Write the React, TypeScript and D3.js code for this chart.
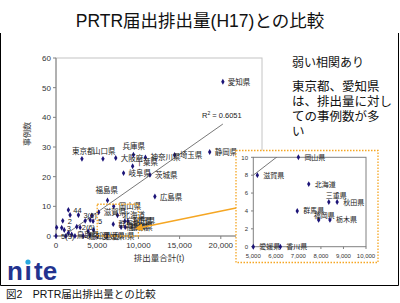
import React from "react";
import * as d3 from "d3";

// prefecture points: emissions (t) vs number of cases
const prefNames = [
  "愛知県", "静岡県", "埼玉県", "神奈川県", "兵庫県", "大阪府", "山口県", "東京都",
  "千葉県", "岐阜県", "茨城県", "広島県", "福島県",
  "岡山県", "滋賀県", "北海道", "三重県", "秋田県", "群馬県", "福岡県", "栃木県", "愛媛県", "香川県",
  "44", "2", "", "3(6)", "", "", "5", "", "3", "", "", "2(6)", "", "", "", "5(3)", "", "鳥取県", "", "高知県", "", "",
];
const emissions = [
  20250, 18650, 14400, 10850, 9400, 7250, 5700, 3150,
  9300, 8200, 11400, 12000, 6250,
  7000, 5180, 7460, 8350, 8720, 6950, 7900, 8400, 5000, 6200,
  1500, 820, 1710, 2720, 3540, 4350, 4500, 4150, 690, 80, 2930, 2520, 4550, 1000, 3900, 0, 1200, 1900, 2300, 3300, 4100, 1500,
];
const caseCounts = [
  52, 28.3, 27.3, 26.5, 27.4, 26.3, 26, 26,
  23.5, 21.2, 20.6, 13.3, 12,
  10, 8, 7, 5, 5, 4, 3, 3, 0, 0,
  8.8, 5.1, 7.1, 7.1, 5.1, 6.9, 5.0, 5.4, 2.8, 2.9, 2.9, 3.1, 2.0, 2.0, 1.6, 0, 0, 0.5, 0, 0, 0.3, 1.0,
];

const xTicks = [0, 5000, 10000, 15000, 20000, 25000];
const yTicks = [0, 10, 20, 30, 40, 50, 60];
const insetXTicks = [5000, 6000, 7000, 8000, 9000, 10000];
const insetYTicks = [0, 2, 4, 6, 8, 10];

const trendSlope = 0.00195;
const trendIntercept = -1.75;
const trendFrom = 900;
const trendTo = 20250;
const rSquared = "0.6051";

const zoomX = [5000, 10000];
const zoomY = [0, 10.7];

const noteHead = "弱い相関あり";
const noteLines = ["東京都、愛知県", "は、排出量に対し", "ての事例数が多", "い"];

// label nudges (px) for points whose label is not placed to the right
const mainShift: Record<string, [number, number]> = {
  "兵庫県": [-11, -6],
  "東京都": [-10, -5],
  "山口県": [-10, -5],
  "福島県": [-12, -7],
  "千葉県": [3, -1],
};
const insetShift: Record<string, [number, number]> = {
  "三重県": [-3, -4],
  "福岡県": [-5, -2],
};

const FONT = "'Liberation Sans', 'Noto Sans CJK JP', sans-serif";
const NAVY = "#1c1478";
const ORANGE = "#f5a623";

const points = prefNames.map((name, i) => ({ name, x: emissions[i], y: caseCounts[i] }));

export default function App() {
  const x = d3.scaleLinear().domain([0, 25000]).range([56, 262]);
  const y = d3.scaleLinear().domain([0, 60]).range([236, 58]);
  const ix = d3.scaleLinear().domain([5000, 10000]).range([253.3, 366]);
  const iy = d3.scaleLinear().domain([0, 10]).range([246.7, 157.3]);
  const fmt = d3.format(",");
  const diamond = d3.symbol().type(d3.symbolDiamond).size(10)();

  const trend = d3.line<number>()
    .x((d) => x(d))
    .y((d) => y(trendIntercept + trendSlope * d));
  const insetTrend = d3.line<number>()
    .x((d) => ix(d))
    .y((d) => iy(trendIntercept + trendSlope * d));

  const insetPts = points.filter(
    (p) => p.name && isNaN(+p.name[0]) && p.x >= 5000 && p.x <= 10000 && p.y <= 10
  );

  return (
    <svg width={400} height={303} style={{ position: "absolute", left: 0, top: 0 }} fontFamily={FONT}>
      <rect width={400} height={303} fill="#fff" />
      <defs>
        <clipPath id="mainClip"><rect x={56} y={58} width={206} height={178} /></clipPath>
        <clipPath id="insetClip"><rect x={253.3} y={157.3} width={112.7} height={89.4} /></clipPath>
        <marker id="head" viewBox="0 0 10 10" refX={2} refY={5} markerWidth={5} markerHeight={5} orient="auto-start-reverse">
          <path d="M0,0 L10,5 L0,10 z" fill={ORANGE} />
        </marker>
      </defs>

      {/* slide frame */}
      <path d="M0.5,33 V285.5 H398.5 V33" fill="none" stroke="#000" strokeWidth={1} />

      <text x={200} y={27} textAnchor="middle" fontSize={17.5} fill="#111">PRTR届出排出量(H17)との比較</text>

      {/* main chart */}
      <rect x={56} y={58} width={206} height={178} fill="#fff" stroke="#c4c4c4" />
      <line x1={56} x2={56} y1={58} y2={236} stroke="#808080" />
      <line x1={56} x2={262} y1={236} y2={236} stroke="#808080" />
      {yTicks.map((t) => (
        <g key={t}>
          <line x1={53} x2={56} y1={y(t)} y2={y(t)} stroke="#808080" />
          <text x={51} y={y(t) + 3} textAnchor="end" fontSize={8} fill="#333">{t}</text>
        </g>
      ))}
      {xTicks.map((t) => (
        <g key={t}>
          <line x1={x(t)} x2={x(t)} y1={236} y2={239} stroke="#808080" />
          <text x={x(t)} y={248} textAnchor="middle" fontSize={8} fill="#333">{fmt(t)}</text>
        </g>
      ))}
      <text transform="translate(30,134) rotate(-90)" textAnchor="middle" fontSize={8} fill="#333">事例数</text>
      <text x={159} y={261} textAnchor="middle" fontSize={8.5} fill="#333">排出量合計(t)</text>

      <path d={trend([trendFrom, trendTo]) || ""} stroke="#555" strokeWidth={0.8} fill="none" clipPath="url(#mainClip)" />
      <text x={202} y={118} fontSize={7.5} fill="#222">
        R<tspan dy={-3} fontSize={5}>2</tspan><tspan dy={3}> = {rSquared}</tspan>
      </text>

      {points.map((p, i) => (
        <path key={"m" + i} d={diamond} transform={`translate(${x(p.x)},${y(p.y)})`} fill={NAVY} />
      ))}
      {points.filter((p) => p.name).map((p, i) => {
        const [dx, dy] = mainShift[p.name] || [5, 3];
        return (
          <text key={"ml" + i} x={x(p.x) + dx} y={y(p.y) + dy} fontSize={7.5} fill="#222">{p.name}</text>
        );
      })}

      {/* zoom marker + arrow */}
      <rect x={x(zoomX[0])} y={y(zoomY[1])} width={x(zoomX[1]) - x(zoomX[0])} height={y(zoomY[0]) - y(zoomY[1])}
        fill="none" stroke={ORANGE} strokeWidth={1.3} strokeDasharray="1.5,1.5" />
      <line x1={236} y1={208} x2={141} y2={227.5} stroke={ORANGE} strokeWidth={1.5} markerEnd="url(#head)" />

      {/* inset */}
      <rect x={236} y={150.5} width={142} height={112} fill="#fff" stroke={ORANGE} strokeWidth={1.3} strokeDasharray="1.5,1.5" />
      <rect x={253.3} y={157.3} width={112.7} height={89.4} fill="#fff" stroke="#808080" />
      {insetYTicks.map((t) => (
        <g key={t}>
          <line x1={251} x2={253.3} y1={iy(t)} y2={iy(t)} stroke="#808080" />
          <text x={248} y={iy(t) + 2.2} textAnchor="end" fontSize={6} fill="#333">{t}</text>
        </g>
      ))}
      {insetXTicks.map((t) => (
        <g key={t}>
          <line x1={ix(t)} x2={ix(t)} y1={246.7} y2={249} stroke="#808080" />
          <text x={ix(t)} y={257.5} textAnchor="middle" fontSize={6} fill="#333">{fmt(t)}</text>
        </g>
      ))}
      <path d={insetTrend([5000, 10000]) || ""} stroke="#555" strokeWidth={0.8} fill="none" clipPath="url(#insetClip)" />
      {insetPts.map((p, i) => {
        const [dx, dy] = insetShift[p.name] || [6, 2.5];
        return (
          <g key={"i" + i}>
            <path d={diamond} transform={`translate(${ix(p.x)},${iy(p.y)})`} fill={NAVY} />
            <text x={ix(p.x) + dx} y={iy(p.y) + dy} fontSize={7} fill="#222">{p.name}</text>
          </g>
        );
      })}

      {/* notes */}
      <text x={292} y={67} fontSize={12} fill="#111">{noteHead}</text>
      {noteLines.map((l, i) => (
        <text key={i} x={292} y={91 + i * 15} fontSize={12.5} fill="#111">{l}</text>
      ))}

      {/* logo */}
      <text y={280} fontSize={26} fontWeight="bold" fill="#23338f" fontFamily="'Liberation Sans', sans-serif">
        <tspan x={7}>n</tspan><tspan x={24.5}>ı</tspan><tspan x={34}>te</tspan>
      </text>
      <circle cx={28} cy={262} r={2.6} fill="#29a9e0" />

      <text x={6} y={298} fontSize={10.5} fill="#111">図2　PRTR届出排出量との比較</text>
    </svg>
  );
}
